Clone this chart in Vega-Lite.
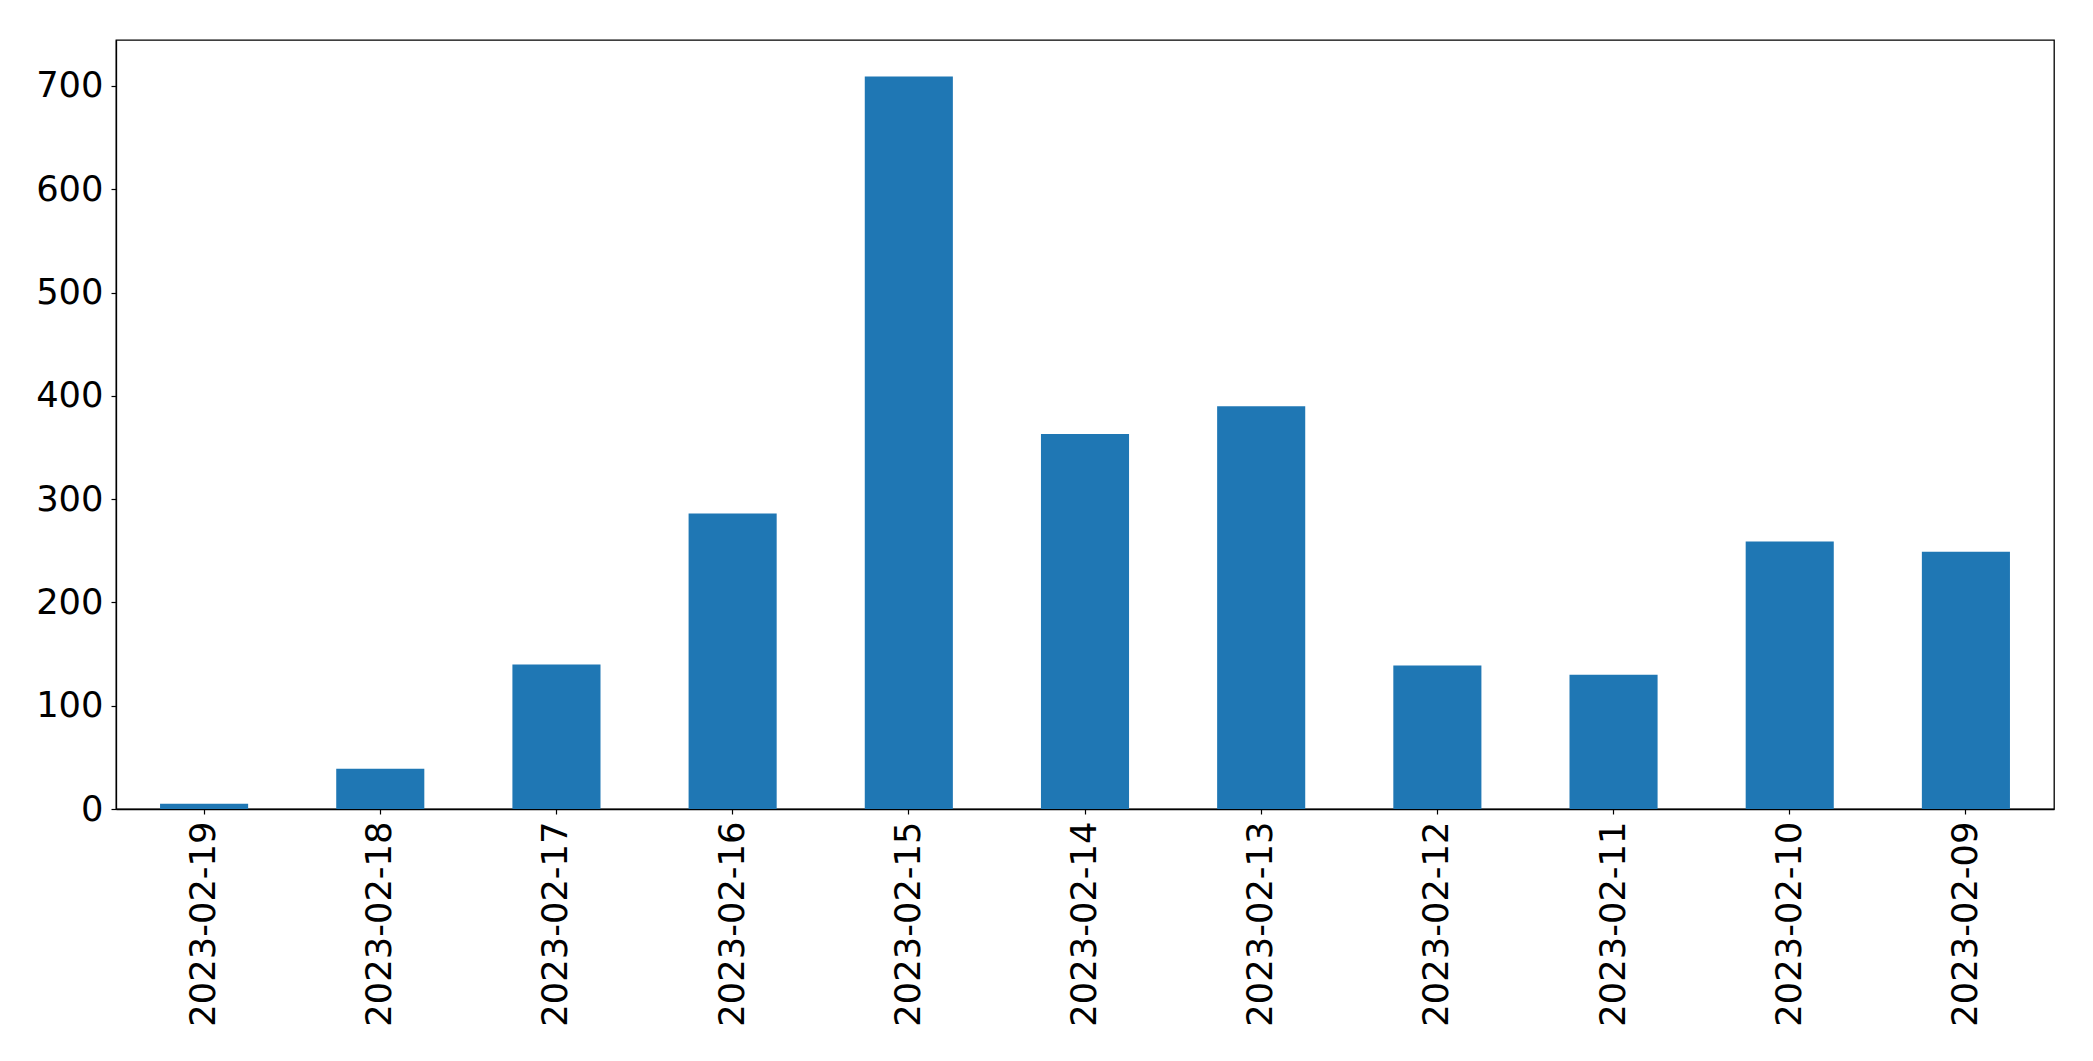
{
  "$schema": "https://vega.github.io/schema/vega-lite/v6.json",
  "autosize": {"type": "none"},
  "padding": {"left": 116, "top": 40, "right": 39, "bottom": 252},
  "width": 1938,
  "height": 769,
  "background": "white",
  "config": {
    "view": {"stroke": "black", "strokeWidth": 1.3},
    "axis": {
      "labelFont": "DejaVu Sans",
      "labelFontSize": 35.3,
      "labelColor": "black",
      "labelLimit": 0,
      "tickColor": "black",
      "domainColor": "black",
      "tickSize": 5,
      "tickWidth": 1.2,
      "domainWidth": 1.3,
      "grid": false,
      "title": null
    }
  },
  "data": {
    "values": [
      {"date": "2023-02-19", "count": 5},
      {"date": "2023-02-18", "count": 39},
      {"date": "2023-02-17", "count": 140},
      {"date": "2023-02-16", "count": 286},
      {"date": "2023-02-15", "count": 709},
      {"date": "2023-02-14", "count": 363},
      {"date": "2023-02-13", "count": 390},
      {"date": "2023-02-12", "count": 139},
      {"date": "2023-02-11", "count": 130},
      {"date": "2023-02-10", "count": 259},
      {"date": "2023-02-09", "count": 249}
    ]
  },
  "mark": {"type": "bar", "color": "#1f77b4"},
  "encoding": {
    "x": {
      "field": "date",
      "type": "nominal",
      "sort": null,
      "scale": {"paddingInner": 0.5, "paddingOuter": 0.25},
      "axis": {"labelAngle": -90, "labelAlign": "right", "labelBaseline": "middle", "labelPadding": 7, "labelLimit": 0, "title": null}
    },
    "y": {
      "field": "count",
      "type": "quantitative",
      "scale": {"domain": [0, 744.45], "nice": false, "zero": true},
      "axis": {"values": [0, 100, 200, 300, 400, 500, 600, 700], "labelPadding": 8, "title": null}
    }
  }
}
